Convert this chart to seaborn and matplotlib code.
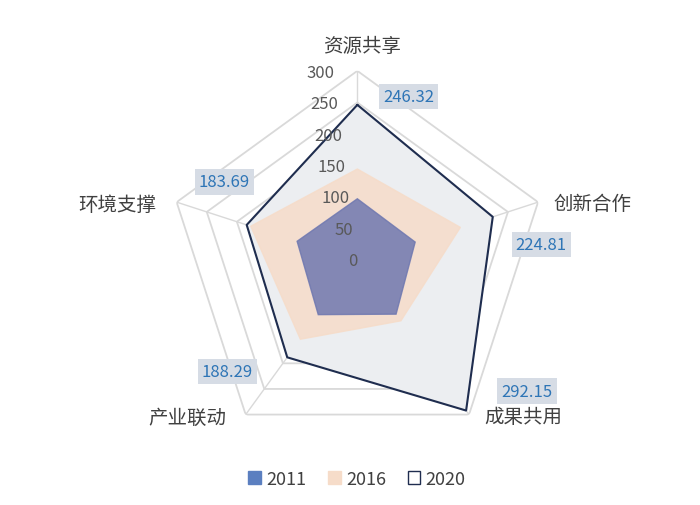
import numpy as np
import matplotlib.pyplot as plt
import seaborn as sns
from matplotlib.patches import Patch

sns.set_theme(style="white")
plt.rcParams["font.family"] = ["Noto Sans CJK SC", "DejaVu Sans"]

categories = ["资源共享", "创新合作", "成果共用", "产业联动", "环境支撑"]
v2011 = [98, 96, 104, 105, 100]
v2016 = [145, 171, 117, 153, 177]
v2020 = [246.32, 224.81, 292.15, 188.29, 183.69]
ticks = [0, 50, 100, 150, 200, 250, 300]

n = len(categories)
ang = np.linspace(0, 2 * np.pi, n, endpoint=False)
ang_c = np.append(ang, ang[0])

def close(v):
    return np.append(v, v[0])

fig = plt.figure(figsize=(7, 5.06), dpi=100)
ax = fig.add_axes([0.239, 0.107, 0.543, 0.751], projection="polar")
ax.set_theta_offset(np.pi / 2)
ax.set_theta_direction(-1)
ax.set_ylim(0, 300)
ax.grid(False)
ax.spines["polar"].set_visible(False)
ax.set_xticks([])
ax.set_yticks([])
ax.patch.set_alpha(0)

# pentagon grid
for t in ticks[1:]:
    ax.plot(ang_c, [t] * (n + 1), color="#d9d9d9", lw=1.3, zorder=1)
for a in ang:
    ax.plot([a, a], [0, 300], color="#d9d9d9", lw=1.0, zorder=1)

ax.fill(ang_c, close(v2020), color="#eceef1", zorder=2)
ax.plot(ang_c, close(v2020), color="#1f2d4f", lw=1.5, zorder=5)
ax.fill(ang_c, close(v2016), color="#f6dcc9", alpha=0.85, zorder=3)
ax.fill(ang_c, close(v2011), color="#6f78b0", alpha=0.85, zorder=4)

for t in ticks:
    ax.text(0, t, str(t), ha="right", va="center", fontsize=12, color="#595959",
            transform=ax.transData, zorder=6)
# shift tick labels slightly left of axis
for txt in ax.texts:
    txt.set_position((-0.12, txt.get_position()[1] if txt.get_position()[1] > 0 else 0))

offsets = [(37, 6), (35, -20), (44, 14), (-43, -10), (-16, 31)]
for a, v, off in zip(ang, v2020, offsets):
    ax.annotate(f"{v:.2f}", (a, v), xytext=off, textcoords="offset points",
                ha="center", va="center", fontsize=12, color="#2e75b6", zorder=7,
                bbox=dict(boxstyle="square,pad=0.25", fc="#d6dce5", ec="none"))

label_px = [(362, 47), (592, 205), (523, 418), (187, 418), (117, 205)]
for name, (x, y) in zip(categories, label_px):
    fig.text(x / 700, 1 - y / 506, name, ha="center", va="center",
             fontsize=14, color="#404040")

handles = [Patch(fc="#5b7fc0", ec="#5b7fc0"),
           Patch(fc="#f6dcc9", ec="#f6dcc9"),
           Patch(fc="white", ec="#1f2d4f")]
fig.legend(handles, ["2011", "2016", "2020"], loc="center",
           bbox_to_anchor=(0.51, 1 - 480 / 506), ncol=3, frameon=False,
           fontsize=13, handlelength=0.7, handleheight=0.7, columnspacing=1.2,
           handletextpad=0.3, labelcolor="#404040")

fig.savefig("out.png", dpi=100)
